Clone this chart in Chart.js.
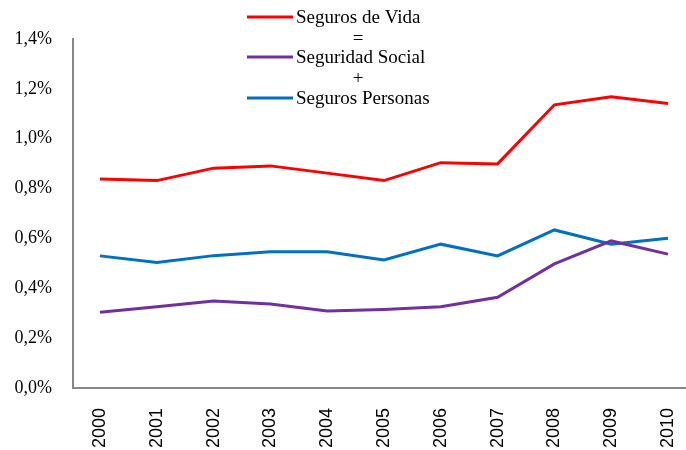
<!DOCTYPE html>
<html>
<head>
<meta charset="utf-8">
<script src="https://cdn.jsdelivr.net/npm/chart.js@4"></script>
<style>
    html, body { margin: 0; padding: 0; background: #fff; overflow: hidden; }
    #wrap { width: 686px; height: 450px; position: relative; }
</style>
</head>
<body>
<div id="wrap"><canvas id="chart"></canvas></div>
<script>
// Data (% values)
const years = [2000, 2001, 2002, 2003, 2004, 2005, 2006, 2007, 2008, 2009, 2010];
const segurosVida = [0.838, 0.832, 0.882, 0.891, 0.862, 0.832, 0.904, 0.899, 1.136, 1.168, 1.141];
const seguridadSocial = [0.304, 0.326, 0.349, 0.337, 0.309, 0.315, 0.326, 0.364, 0.498, 0.590, 0.537];
const segurosPersonas = [0.530, 0.503, 0.531, 0.547, 0.547, 0.514, 0.577, 0.530, 0.634, 0.577, 0.601];
const yTicks = [0, 0.2, 0.4, 0.6, 0.8, 1.0, 1.2, 1.4];

const colors = {
    vida: "#ff0000",
    social: "#7030a0",
    personas: "#0070c0"
};

const serif = "'Liberation Serif', 'Times New Roman', serif";

function toPoints(arr) {
    return arr.map((v, i) => ({ x: years[i], y: v }));
}

/* =========================
        CUSTOM LEGEND
========================= */
const legendPlugin = {
    id: "formulaLegend",
    afterDraw(chart) {
        const ctx = chart.ctx;
        const rows = [
            { type: "line", color: colors.vida, text: "Seguros de Vida", y: 17 },
            { type: "sign", text: "=", y: 39 },
            { type: "line", color: colors.social, text: "Seguridad Social", y: 57 },
            { type: "sign", text: "+", y: 79 },
            { type: "line", color: colors.personas, text: "Seguros Personas", y: 98 }
        ];
        ctx.save();
        ctx.font = "19px " + serif;
        ctx.fillStyle = "#000";
        ctx.textBaseline = "middle";
        rows.forEach(r => {
            if (r.type === "line") {
                ctx.strokeStyle = r.color;
                ctx.lineWidth = 3;
                ctx.beginPath();
                ctx.moveTo(247, r.y);
                ctx.lineTo(293, r.y);
                ctx.stroke();
                ctx.textAlign = "left";
                ctx.fillText(r.text, 296, r.y + 1);
            } else {
                ctx.textAlign = "center";
                ctx.fillText(r.text, 358, r.y);
            }
        });
        ctx.restore();
    }
};

function lineSet(label, data, color) {
    return {
        label: label,
        data: toPoints(data),
        borderColor: color,
        backgroundColor: color,
        borderWidth: 3,
        pointRadius: 0,
        tension: 0,
        fill: false
    };
}

new Chart(document.getElementById("chart"), {
    type: "line",
    data: {
        datasets: [
            lineSet("Seguros de Vida", segurosVida, colors.vida),
            lineSet("Seguridad Social", seguridadSocial, colors.social),
            lineSet("Seguros Personas", segurosPersonas, colors.personas)
        ]
    },
    options: {
        responsive: true,
        maintainAspectRatio: false,
        animation: false,
        layout: { padding: { top: 39, right: 0, left: 0, bottom: 0 } },
        plugins: {
            legend: { display: false },
            tooltip: { enabled: false }
        },
        scales: {
            x: {
                type: "linear",
                min: 1999.525,
                max: 2010.317,
                afterBuildTicks: s => { s.ticks = years.map(v => ({ value: v })); },
                afterFit: s => {
                    s.height = 62;
                    s.paddingLeft = 0;
                    s.paddingRight = 0;
                },
                grid: { display: false, drawTicks: false },
                border: { display: true, color: "#868686", width: 2 },
                ticks: {
                    minRotation: 90,
                    maxRotation: 90,
                    padding: 20,
                    color: "#000",
                    font: { family: "'Liberation Sans', Arial, sans-serif", size: 18 },
                    callback: v => String(v)
                }
            },
            y: {
                min: 0,
                max: 1.4,
                afterBuildTicks: s => { s.ticks = yTicks.map(v => ({ value: v })); },
                afterFit: s => { s.width = 73; },
                grid: { display: false, drawTicks: false },
                border: { display: true, color: "#868686", width: 2 },
                ticks: {
                    padding: 21,
                    color: "#000",
                    font: { family: serif, size: 18 },
                    callback: v => v.toFixed(1).replace(".", ",") + "%"
                }
            }
        }
    },
    plugins: [legendPlugin]
});
</script>
</body>
</html>
